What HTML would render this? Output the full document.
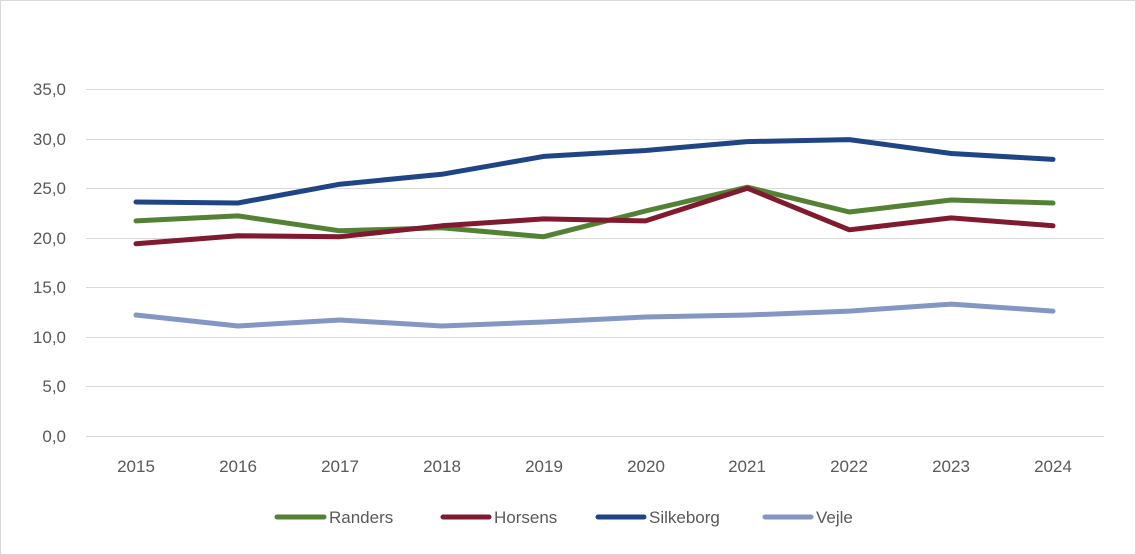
<!DOCTYPE html>
<html><head><meta charset="utf-8"><style>
html,body{margin:0;padding:0;background:#fff;}
svg{display:block;font-family:"Liberation Sans",sans-serif;}
</style></head><body>
<svg width="1136" height="555" viewBox="0 0 1136 555">
<rect x="0.5" y="0.5" width="1135" height="554" fill="#fff" stroke="#d9d9d9"/>
<g stroke="#d9d9d9" stroke-width="1">
<line x1="86" x2="1104" y1="89.5" y2="89.5"/>
<line x1="86" x2="1104" y1="139.5" y2="139.5"/>
<line x1="86" x2="1104" y1="188.5" y2="188.5"/>
<line x1="86" x2="1104" y1="238.5" y2="238.5"/>
<line x1="86" x2="1104" y1="287.5" y2="287.5"/>
<line x1="86" x2="1104" y1="337.5" y2="337.5"/>
<line x1="86" x2="1104" y1="386.5" y2="386.5"/>
<line x1="86" x2="1104" y1="436.5" y2="436.5"/>
</g>
<g fill="#595959" font-size="17" text-anchor="end">
<text x="66" y="95">35,0</text><text x="66" y="145">30,0</text><text x="66" y="194">25,0</text><text x="66" y="244">20,0</text><text x="66" y="293">15,0</text><text x="66" y="343">10,0</text><text x="66" y="392">5,0</text><text x="66" y="442">0,0</text>
</g>
<g fill="#595959" font-size="17" text-anchor="middle">
<text x="136" y="472">2015</text><text x="238" y="472">2016</text><text x="340" y="472">2017</text><text x="442" y="472">2018</text><text x="544" y="472">2019</text><text x="646" y="472">2020</text><text x="747" y="472">2021</text><text x="849" y="472">2022</text><text x="951" y="472">2023</text><text x="1053" y="472">2024</text>
</g>
<g fill="none" stroke-width="5" stroke-linejoin="round" stroke-linecap="round">
<polyline stroke="#8497c3" points="136,315 237.9,326 339.8,320 441.7,326 543.6,322 645.5,317 747.4,315 849.3,311.1 951.2,304.1 1053,311.1"/>
<polyline stroke="#548235" points="136,220.9 237.9,215.9 339.8,230.8 441.7,227.8 543.6,236.7 645.5,211 747.4,187.2 849.3,212 951.2,200 1053,203"/>
<polyline stroke="#7f1a30" points="136,243.7 237.9,235.7 339.8,236.7 441.7,225.8 543.6,218.9 645.5,220.9 747.4,188.2 849.3,229.8 951.2,217.9 1053,225.8"/>
<polyline stroke="#1f4584" points="136,202 237.9,203 339.8,184.2 441.7,174.3 543.6,156.4 645.5,150.5 747.4,141.6 849.3,139.6 951.2,153.5 1053,159.4"/>
</g>
<g stroke-width="5" stroke-linecap="round">
<line x1="277" x2="324" y1="517" y2="517" stroke="#548235"/>
<line x1="443" x2="489" y1="517" y2="517" stroke="#7f1a30"/>
<line x1="598" x2="644" y1="517" y2="517" stroke="#1f4584"/>
<line x1="765" x2="811" y1="517" y2="517" stroke="#8497c3"/>
</g>
<g fill="#595959" font-size="17">
<text x="329" y="523">Randers</text><text x="494" y="523">Horsens</text><text x="649" y="523">Silkeborg</text><text x="816" y="523">Vejle</text>
</g>
</svg>
</body></html>
